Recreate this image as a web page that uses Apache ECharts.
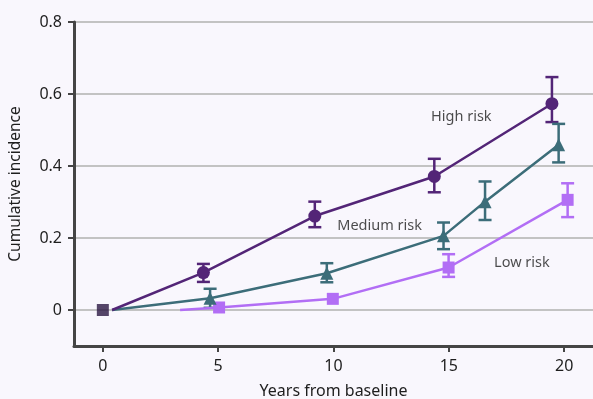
<!DOCTYPE html>
<html>
<head>
<meta charset="utf-8">
<script src="https://cdn.jsdelivr.net/npm/echarts@6/dist/echarts.min.js"></script>
<style>
  html, body { margin: 0; padding: 0; background: #f9f7fd; }
  #chart { width: 593px; height: 399px; }
</style>
</head>
<body>
<div id="chart"></div>
<script>
// Axis ticks
const yTicks = [0, 0.2, 0.4, 0.6, 0.8];
const xTicks = [0, 5, 10, 15, 20];

// High risk group
const highX = [0.4, 4.36, 9.19, 14.37, 19.47];
const highY = [0, 0.104, 0.261, 0.371, 0.573];
const highLow = [null, 0.078, 0.23, 0.327, 0.522];
const highHigh = [null, 0.128, 0.301, 0.42, 0.647];

// Medium risk group
const medX = [0.4, 4.65, 9.71, 14.77, 16.57, 19.76];
const medY = [0, 0.0325, 0.102, 0.206, 0.301, 0.459];
const medLow = [null, 0.006, 0.077, 0.169, 0.25, 0.41];
const medHigh = [null, 0.059, 0.13, 0.243, 0.357, 0.517];

// Low risk group
const lowX = [3.35, 5.04, 9.97, 14.99, 20.15];
const lowY = [0, 0.007, 0.031, 0.118, 0.306];
const lowLow = [null, null, null, 0.092, 0.258];
const lowHigh = [null, null, null, 0.155, 0.352];

// Shared baseline
const baseX = [0];
const baseY = [0];

// Group labels
const labelNames = ['High risk', 'Medium risk', 'Low risk'];
const labelX = [15.54, 12.0, 18.17];
const labelY = [0.537, 0.234, 0.13];

const COLORS = { high: '#532577', med: '#3c6d79', low: '#b26ef5', base: '#2c1844' };
const FONT = 'Noto Sans';
const TEXT = '#1e1e1e';

function lineSeries(xs, ys, color, symbol, size) {
  return {
    type: 'line',
    data: xs.map((x, i) => ({ value: [x, ys[i]], symbol: i === 0 ? 'none' : symbol })),
    symbol: symbol,
    symbolSize: size,
    showSymbol: true,
    lineStyle: { color: color, width: 2.5 },
    itemStyle: { color: color },
    z: 3,
    silent: true
  };
}

function errorSeries(xs, lo, hi, color) {
  const data = [];
  xs.forEach((x, i) => { if (lo[i] != null) data.push([x, lo[i], hi[i]]); });
  return {
    type: 'custom',
    data: data,
    encode: { x: 0, y: [1, 2] },
    z: 2,
    silent: true,
    renderItem: function (params, api) {
      const x = api.value(0);
      const a = api.coord([x, api.value(1)]);
      const b = api.coord([x, api.value(2)]);
      const w = 6.5;
      const style = { stroke: color, lineWidth: 2.5 };
      return {
        type: 'group',
        children: [
          { type: 'line', shape: { x1: a[0], y1: a[1], x2: b[0], y2: b[1] }, style: style },
          { type: 'line', shape: { x1: a[0] - w, y1: a[1], x2: a[0] + w, y2: a[1] }, style: style },
          { type: 'line', shape: { x1: b[0] - w, y1: b[1], x2: b[0] + w, y2: b[1] }, style: style }
        ]
      };
    }
  };
}

const chart = echarts.init(document.getElementById('chart'), null, { renderer: 'canvas' });

chart.setOption({
  backgroundColor: '#f9f7fd',
  animation: false,
  textStyle: { fontFamily: FONT },
  grid: { left: 74, right: 0, top: 22, bottom: 53, containLabel: false, outerBoundsMode: 'none' },
  xAxis: {
    type: 'value',
    min: -1.25,
    max: 21.25,
    name: 'Years from baseline',
    nameLocation: 'middle',
    nameGap: 37,
    nameTextStyle: { color: TEXT, fontSize: 16, fontFamily: FONT },
    axisLine: { show: true, onZero: false, lineStyle: { color: '#454545', width: 3 } },
    axisTick: { show: true, customValues: xTicks, length: 6, lineStyle: { color: '#454545', width: 2 } },
    axisLabel: { customValues: xTicks, color: TEXT, fontSize: 16, margin: 12, fontFamily: FONT },
    splitLine: { show: false }
  },
  yAxis: {
    type: 'value',
    min: -0.1,
    max: 0.8,
    name: 'Cumulative incidence',
    nameLocation: 'middle',
    nameGap: 50,
    nameTextStyle: { color: TEXT, fontSize: 15.5, fontFamily: FONT },
    axisLine: { show: true, onZero: false, lineStyle: { color: '#454545', width: 3 } },
    axisTick: { show: true, customValues: yTicks, length: 6, lineStyle: { color: '#454545', width: 2 } },
    axisLabel: { customValues: yTicks, color: TEXT, fontSize: 16, margin: 12, fontFamily: FONT },
    splitLine: { show: true, lineStyle: { color: '#c3c3c3', width: 2 } }
  },
  series: [
    errorSeries(highX, highLow, highHigh, COLORS.high),
    errorSeries(medX, medLow, medHigh, COLORS.med),
    errorSeries(lowX, lowLow, lowHigh, COLORS.low),
    lineSeries(lowX, lowY, COLORS.low, 'rect', 12),
    lineSeries(medX, medY, COLORS.med, 'triangle', 13),
    lineSeries(highX, highY, COLORS.high, 'circle', 13),
    {
      type: 'scatter',
      data: baseX.map((x, i) => [x, baseY[i]]),
      symbol: 'rect',
      symbolSize: 12,
      itemStyle: { color: COLORS.base },
      z: 5,
      silent: true
    },
    {
      type: 'scatter',
      data: labelNames.map((n, i) => ({ name: n, value: [labelX[i], labelY[i]] })),
      symbolSize: 0,
      silent: true,
      label: {
        show: true,
        position: 'inside',
        formatter: '{b}',
        color: TEXT,
        fontSize: 14.5,
        fontFamily: FONT
      }
    }
  ]
});
</script>
</body>
</html>
